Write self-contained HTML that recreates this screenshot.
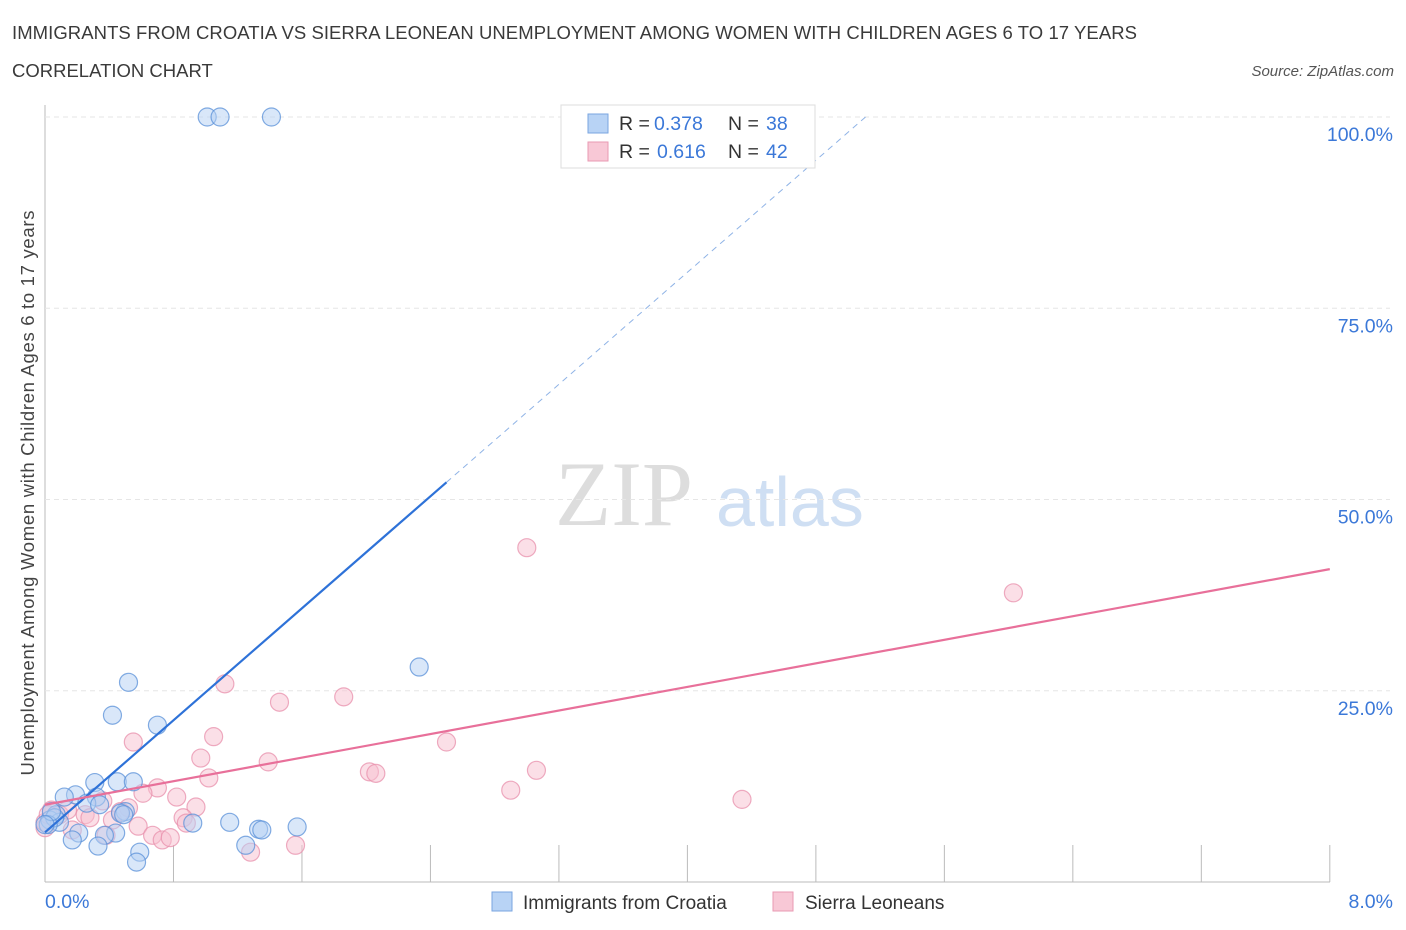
<!DOCTYPE html>
<html><head><meta charset="utf-8"><style>
body{margin:0;background:#fff;font-family:"Liberation Sans",sans-serif}
</style></head><body>
<svg id="c" width="1406" height="930" xmlns="http://www.w3.org/2000/svg" style="display:block">
<text x="12" y="39" font-size="18.5" fill="#3a3a3a" textLength="1125">IMMIGRANTS FROM CROATIA VS SIERRA LEONEAN UNEMPLOYMENT AMONG WOMEN WITH CHILDREN AGES 6 TO 17 YEARS</text>
<text x="12" y="77" font-size="18.5" fill="#3a3a3a">CORRELATION CHART</text>
<text x="1394" y="76" font-size="15" font-style="italic" fill="#555" text-anchor="end">Source: ZipAtlas.com</text>
<text x="555" y="525" font-size="92" font-family="Liberation Serif" fill="#ddd">ZIP</text>
<text x="716" y="526" font-size="70" fill="#cfdff3">atlas</text>
<text transform="translate(34,493) rotate(-90)" font-size="18.5" fill="#444" text-anchor="middle" textLength="565">Unemployment Among Women with Children Ages 6 to 17 years</text>
<g id="grid"></g><g id="pts"></g><g id="lines"></g>
<g>
<rect x="561" y="105" width="254" height="63" fill="#fff" stroke="#ddd"/>
<rect x="588" y="114" width="20" height="19" fill="#b8d3f5" stroke="#7aa6e0"/>
<rect x="588" y="142" width="20" height="19" fill="#f8c8d6" stroke="#e99ab3"/>
<text x="619" y="130" font-size="19.5" fill="#333">R =</text>
<text x="654" y="130" font-size="19.5" fill="#3b78d8">0.378</text>
<text x="728" y="130" font-size="19.5" fill="#333">N =</text>
<text x="766" y="130" font-size="19.5" fill="#3b78d8">38</text>
<text x="619" y="158" font-size="19.5" fill="#333">R =</text>
<text x="657" y="158" font-size="19.5" fill="#3b78d8">0.616</text>
<text x="728" y="158" font-size="19.5" fill="#333">N =</text>
<text x="766" y="158" font-size="19.5" fill="#3b78d8">42</text>
</g>
<g>
<rect x="492" y="892" width="20" height="19" fill="#b8d3f5" stroke="#7aa6e0"/>
<text x="523" y="909" font-size="19" fill="#333">Immigrants from Croatia</text>
<rect x="773" y="892" width="20" height="19" fill="#f8c8d6" stroke="#e99ab3"/>
<text x="805" y="909" font-size="19" fill="#333">Sierra Leoneans</text>
</g>
</svg>
<script>
const xTicks=["0.0%","8.0%"];
const yTicks=[25,50,75,100];
const blueX=[1.01,1.09,1.41,2.33,0.52,0.42,0.70,0.31,0.45,0.55,0.19,0.12,0.32,0.26,0.34,0.50,0.47,1.15,0.92,1.33,1.35,1.57,0.07,0.03,0.09,0.06,0.02,0.21,0.17,0.44,0.37,0.33,0.59,0.57,1.25,0.49,0.04,0.0];
const blueY=[100,100,100,28.1,26.1,21.8,20.5,13.0,13.1,13.1,11.4,11.1,11.1,10.3,10.1,9.2,9.0,7.8,7.7,6.9,6.8,7.2,8.8,8.1,7.8,8.4,7.5,6.4,5.5,6.4,6.1,4.7,3.9,2.6,4.8,8.8,9.2,7.5];
const pinkX=[3.00,6.03,1.12,1.46,1.86,0.55,1.05,2.50,0.97,1.39,2.02,2.06,3.06,1.02,0.70,0.61,0.82,2.90,4.34,0.94,0.36,0.52,0.04,0.09,0.14,0.25,0.28,0.42,0.86,0.88,0.58,0.67,0.73,0.78,1.28,1.56,0.38,0.0,0.0,0.02,0.17,0.47];
const pinkY=[43.7,37.8,25.9,23.5,24.2,18.3,19.0,18.3,16.2,15.7,14.4,14.2,14.6,13.6,12.3,11.6,11.1,12.0,10.8,9.8,10.6,9.7,9.4,8.8,9.4,8.8,8.4,8.1,8.4,7.7,7.3,6.1,5.5,5.8,3.9,4.8,6.1,7.1,7.8,8.8,6.8,9.2];
const blueTrend=[6.5,18.3];
const pinkTrend=[10.1,3.85];
const X=v=>45+v*160.6, Y=v=>882-v*7.65;
const NS="http://www.w3.org/2000/svg";
function mk(t,a,p){const e=document.createElementNS(NS,t);for(const k in a)e.setAttribute(k,a[k]);p.appendChild(e);return e;}
const svg=document.getElementById('c'),grid=document.getElementById('grid'),pts=document.getElementById('pts'),lines=document.getElementById('lines');
mk('line',{x1:45,y1:105,x2:45,y2:882,stroke:'#bbb'},grid);
mk('line',{x1:45,y1:882,x2:1330,y2:882,stroke:'#bbb'},grid);
for(let i=1;i<=10;i++){const x=X(i*0.8);mk('line',{x1:x,y1:845,x2:x,y2:882,stroke:'#bbb'},grid);}
yTicks.forEach(v=>{
 const g=mk('line',{x1:45,y1:Y(v),x2:1390,y2:Y(v),stroke:'#e6e6e6','stroke-dasharray':'5,4'},grid);
 
 
 const t=mk('text',{x:1393,y:Y(v)+24,'font-size':19.5,fill:'#3b78d8','text-anchor':'end'},svg);
 t.textContent=v.toFixed(1)+'%';
 
 
});
const t0=mk('text',{x:45,y:908,'font-size':19.5,fill:'#3b78d8'},svg);t0.textContent=xTicks[0];


const t1=mk('text',{x:1393,y:908,'font-size':19.5,fill:'#3b78d8','text-anchor':'end'},svg);t1.textContent=xTicks[1];


function dots(xs,ys,fill,stroke,name){xs.forEach((x,i)=>{
 const c=mk('circle',{cx:X(x),cy:Y(ys[i]),r:9,fill:fill,'fill-opacity':0.5,stroke:stroke,'stroke-opacity':0.75,'stroke-width':1.2},pts);
 
 
});}
dots(pinkX,pinkY,'#f8c0d0','#e890ac','sierra-leonean-point');
dots(blueX,blueY,'#b3d0f3','#5a90d8','croatia-point');
const bEnd=2.5, bTop=(100-blueTrend[0])/blueTrend[1];
let l=mk('line',{x1:X(0),y1:Y(blueTrend[0]),x2:X(bEnd),y2:Y(blueTrend[0]+blueTrend[1]*bEnd),stroke:'#2e72d8','stroke-width':2.2},lines);


l=mk('line',{x1:X(bEnd),y1:Y(blueTrend[0]+blueTrend[1]*bEnd),x2:X(bTop),y2:Y(100),stroke:'#8fb3e6','stroke-width':1,'stroke-dasharray':'6,5'},lines);


l=mk('line',{x1:X(0),y1:Y(pinkTrend[0]),x2:X(8),y2:Y(pinkTrend[0]+pinkTrend[1]*8),stroke:'#e8709a','stroke-width':2.2},lines);


</script>
</body></html>
